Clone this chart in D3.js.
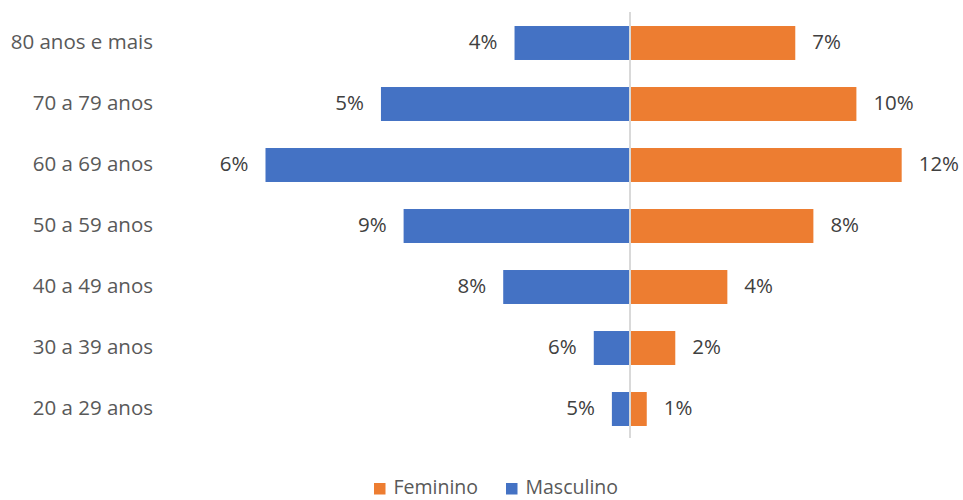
<!DOCTYPE html>
<html>
<head>
<meta charset="utf-8">
<script src="https://cdn.jsdelivr.net/npm/d3@7"></script>
<style>
  html, body { margin: 0; padding: 0; background: #ffffff; }
  svg { display: block; font-family: "Open Sans", sans-serif; }
</style>
</head>
<body>
<svg id="chart" width="963" height="500"></svg>
<script>
// Age groups, top to bottom
const categories = ["80 anos e mais", "70 a 79 anos", "60 a 69 anos", "50 a 59 anos", "40 a 49 anos", "30 a 39 anos", "20 a 29 anos"];
// Bar values (percent)
const feminino = [7.3, 10.0, 12.0, 8.1, 4.3, 2.0, 0.74];
const masculino = [5.1, 11.0, 16.1, 10.0, 5.6, 1.6, 0.8];
// Data labels as printed beside each bar
const femininoLabels = ["7%", "10%", "12%", "8%", "4%", "2%", "1%"];
const masculinoLabels = ["4%", "5%", "6%", "9%", "8%", "6%", "5%"];
const seriesNames = ["Feminino", "Masculino"];
const colors = { Feminino: "#ED7D31", Masculino: "#4472C4" };

const FONT = "'Open Sans', sans-serif";
const FS = 20.5;

const svg = d3.select("#chart");

const x = d3.scaleLinear().domain([-20, 15]).range([630 - 20 * 22.64, 630 + 15 * 22.64]);
const y = d3.scaleBand().domain(categories).range([12.5, 439.5])
  .paddingInner(0.443).paddingOuter(0.2215);

const rows = categories.map((c, i) => ({
  cat: c, f: feminino[i], m: masculino[i], fl: femininoLabels[i], ml: masculinoLabels[i]
}));

// Male bars extend left of zero
svg.append("g").selectAll("rect").data(rows).join("rect")
  .attr("x", d => x(-d.m))
  .attr("y", d => y(d.cat))
  .attr("width", d => x(0) - x(-d.m))
  .attr("height", y.bandwidth())
  .attr("fill", colors.Masculino);

// Female bars extend right of zero
svg.append("g").selectAll("rect").data(rows).join("rect")
  .attr("x", x(0))
  .attr("y", d => y(d.cat))
  .attr("width", d => x(d.f) - x(0))
  .attr("height", y.bandwidth())
  .attr("fill", colors.Feminino);

// Vertical category axis at zero
svg.append("line")
  .attr("x1", x(0)).attr("x2", x(0))
  .attr("y1", 12).attr("y2", 438)
  .attr("stroke", "#d9d9d9").attr("stroke-width", 2);

// Category labels on the left
const yAxis = d3.axisLeft(y).tickSize(0).tickPadding(0);
const gy = svg.append("g").attr("transform", "translate(153,0)").call(yAxis);
gy.select(".domain").remove();
gy.selectAll("text")
  .attr("font-family", FONT)
  .attr("font-size", FS).attr("fill", "#595959")
  .attr("dy", "0.3em");

// Value labels
const labels = svg.append("g").attr("font-size", FS).attr("fill", "#404040");
labels.selectAll("text.m").data(rows).join("text").attr("class", "m")
  .attr("x", d => x(-d.m) - 17)
  .attr("y", d => y(d.cat) + y.bandwidth() / 2)
  .attr("dy", "0.3em").attr("text-anchor", "end")
  .text(d => d.ml);
labels.selectAll("text.f").data(rows).join("text").attr("class", "f")
  .attr("x", d => x(d.f) + 17)
  .attr("y", d => y(d.cat) + y.bandwidth() / 2)
  .attr("dy", "0.3em").attr("text-anchor", "start")
  .text(d => d.fl);

// Legend at the bottom
const legend = svg.append("g").attr("font-size", 19.5).attr("fill", "#595959");
const legendX = [374, 506];
seriesNames.forEach((s, i) => {
  const g = legend.append("g").attr("transform", `translate(${legendX[i]},483)`);
  g.append("rect").attr("width", 11.5).attr("height", 11.5).attr("fill", colors[s]);
  g.append("text").attr("x", 19.5).attr("y", 11.2).text(s);
});
</script>
</body>
</html>
